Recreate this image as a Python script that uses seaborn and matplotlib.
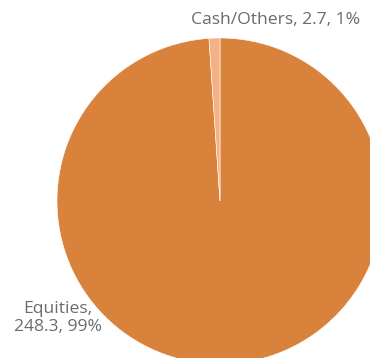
import matplotlib
matplotlib.use("Agg")
import matplotlib.pyplot as plt
import seaborn as sns

categories = ["Equities", "Cash/Others"]
values = [248.3, 2.7]
percents = ["99%", "1%"]
colors = ["#D9823B", "#F4B183"]

sns.set_theme(style="white")
plt.rcParams['font.family'] = ['Open Sans', 'DejaVu Sans']

fig = plt.figure(figsize=(3.70, 3.58), dpi=100)
ax = fig.add_axes([0, 0, 1, 1])
ax.pie(values, colors=colors, startangle=90, counterclock=False,
       radius=1.0, center=(0, 0),
       wedgeprops=dict(edgecolor="white", linewidth=0.4))
ax.set_xlim(-220/163, 150/163)
ax.set_ylim(-157/163, 201/163)
ax.set_aspect('auto')
ax.axis('off')

txtcol = "#6B6B6B"
ax.text(0.745, 0.944, f"{categories[1]}, {values[1]}, {percents[1]}",
        transform=ax.transAxes, ha='center', va='center', fontsize=12.6, color=txtcol)
ax.text(0.157, 0.112, f"{categories[0]},\n{values[0]}, {percents[0]}",
        transform=ax.transAxes, ha='center', va='center', fontsize=12.6,
        color=txtcol, linespacing=1.2)

fig.savefig("out.png", dpi=100)
